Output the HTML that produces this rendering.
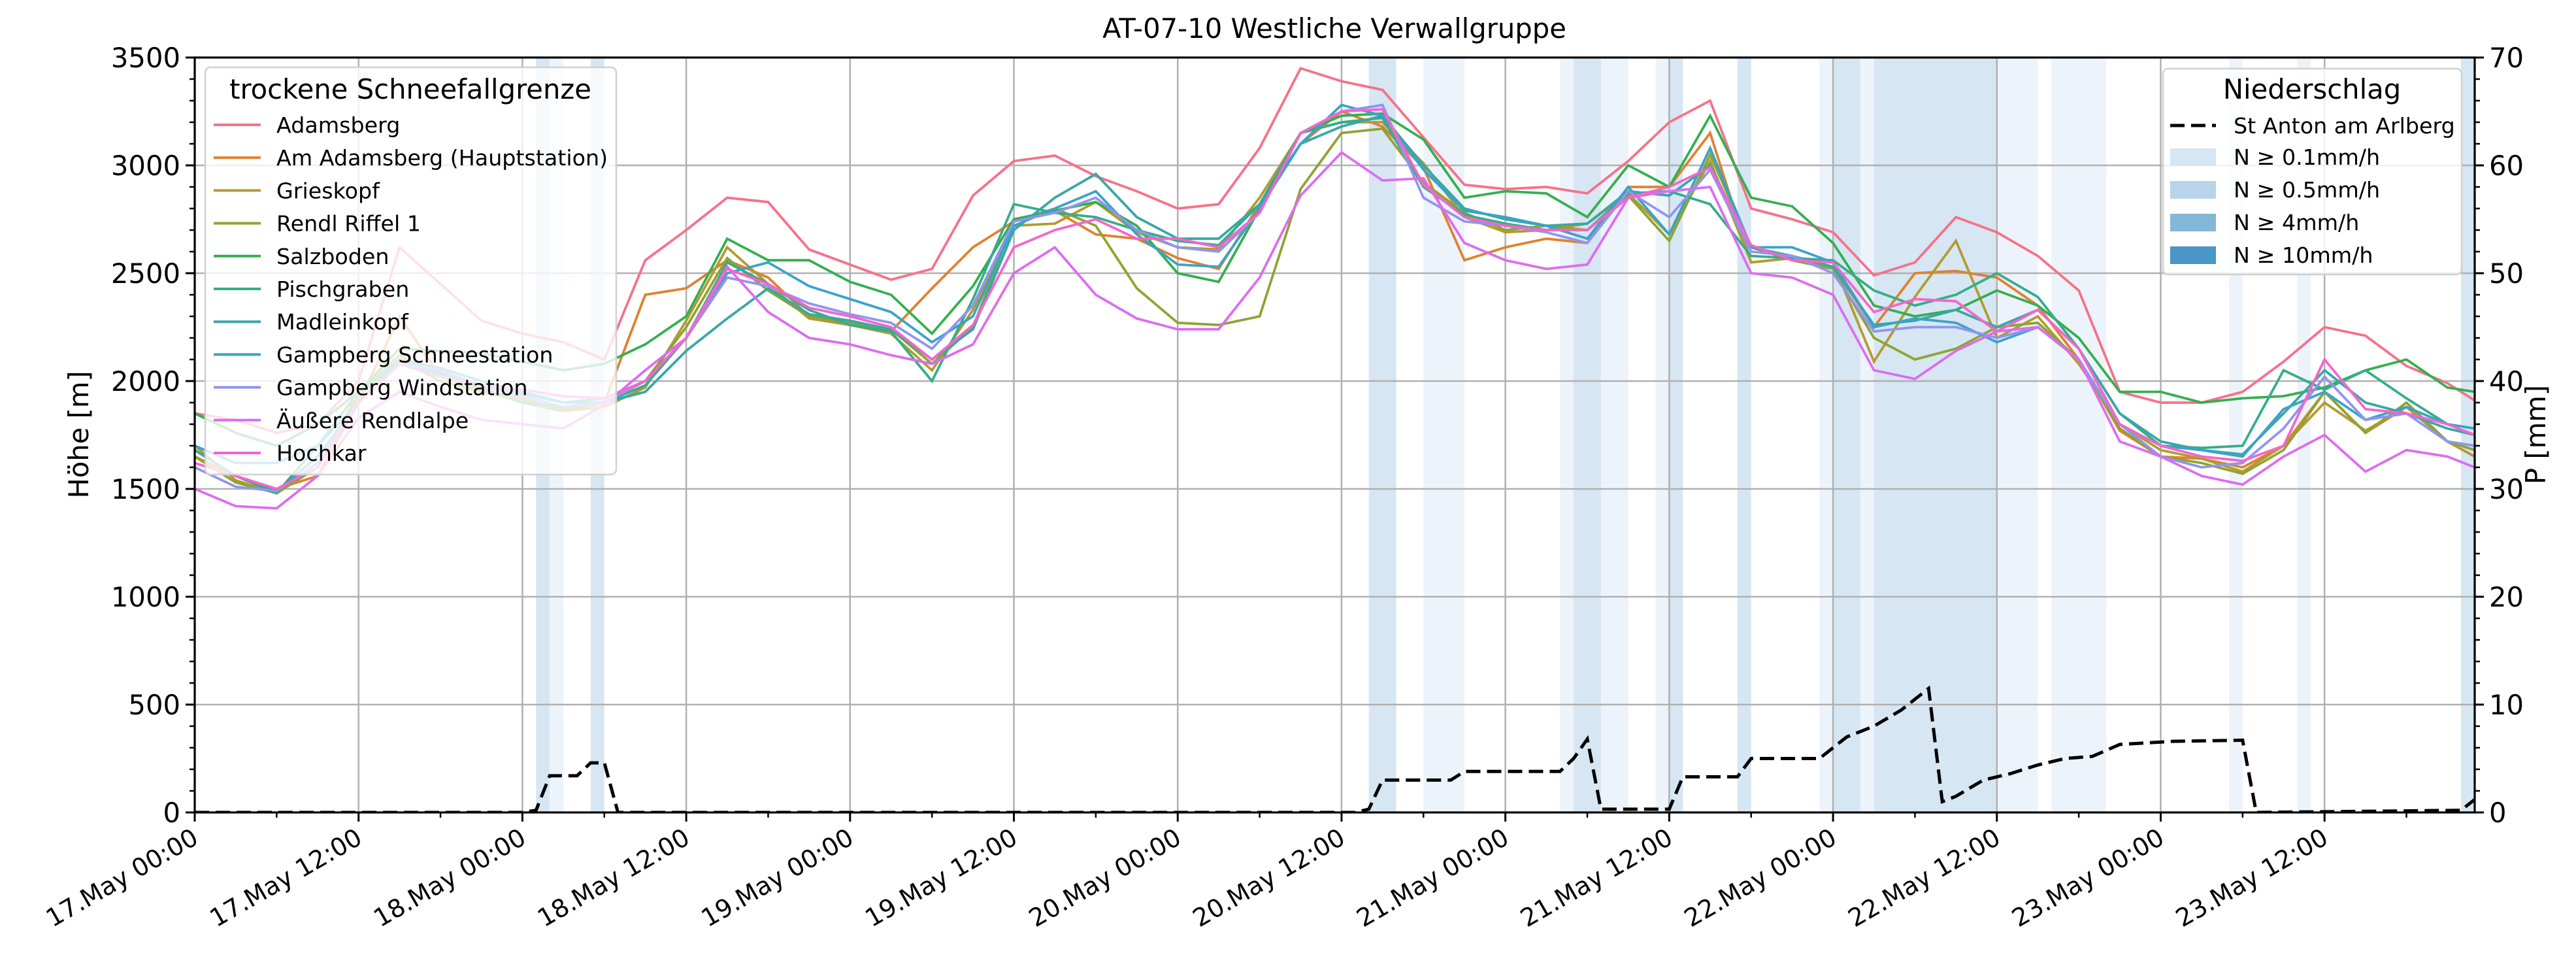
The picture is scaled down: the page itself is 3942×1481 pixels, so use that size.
<!DOCTYPE html>
<html><head><meta charset="utf-8"><style>
html,body{margin:0;padding:0;background:#fff;}
svg{display:block;font-family:"DejaVu Sans","Liberation Sans",sans-serif;}
</style></head><body>
<svg id="chart" width="3942" height="1481" viewBox="0 0 3942 1481" xmlns="http://www.w3.org/2000/svg">
<defs><clipPath id="plotclip"><rect x="298" y="88" width="3489" height="1155"/></clipPath></defs>
<g id="bands" clip-path="url(#plotclip)"></g>
<g id="grid"></g>
<g id="series" clip-path="url(#plotclip)"></g>
<g id="prec" clip-path="url(#plotclip)"></g>
<g id="axes"></g>
<text x="2042" y="58" font-size="41.7" text-anchor="middle">AT-07-10 Westliche Verwallgruppe</text>
<text transform="translate(135,665) rotate(-90)" font-size="41.7" text-anchor="middle">Höhe [m]</text>
<text transform="translate(3895,665) rotate(-90)" font-size="41.7" text-anchor="middle">P [mm]</text>
<g id="legend1"></g>
<g id="legend2"></g>
</svg>
<script>
const hours = [0,3,6,9,12,15,18,21,24,27,30,33,36,39,42,45,48,51,54,57,60,63,66,69,72,75,78,81,84,87,90,93,96,99,102,105,108,111,114,117,120,123,126,129,132,135,138,141,144,147,150,153,156,159,162,165,167];
const stationNames = ["Adamsberg","Am Adamsberg (Hauptstation)","Grieskopf","Rendl Riffel 1","Salzboden","Pischgraben","Madleinkopf","Gampberg Schneestation","Gampberg Windstation","Äußere Rendlalpe","Hochkar"];
const stationColors = ["#f77189","#e0812f","#b59a30","#8fa432","#34af4f","#36ad8a","#38a8a6","#3ba3c7","#8f95f0","#dc6df0","#f565cc"];
const sAdamsberg = [1850,1820,1760,1800,2000,2620,2450,2280,2220,2180,2100,2560,2700,2850,2830,2610,2540,2470,2520,2860,3020,3045,2950,2880,2800,2820,3080,3450,3390,3350,3130,2910,2890,2900,2870,3020,3200,3300,2800,2750,2690,2490,2550,2760,2690,2580,2420,1950,1900,1900,1950,2090,2250,2210,2070,1990,1910];
const sAmAdamsberg = [1650,1560,1500,1560,1900,2300,2020,1960,1920,1860,1900,2400,2430,2560,2480,2300,2270,2230,2430,2620,2740,2790,2680,2660,2570,2520,2820,3100,3250,3180,2990,2560,2620,2660,2640,2900,2900,3150,2550,2570,2530,2250,2500,2510,2480,2350,2100,1770,1650,1640,1600,1700,1950,1760,1880,1720,1650];
const sGrieskopf = [1700,1540,1480,1600,1950,2120,2020,1960,1900,1860,1880,1970,2280,2620,2450,2290,2260,2220,2050,2330,2720,2730,2830,2690,2620,2610,2850,3150,3200,3200,3010,2760,2690,2700,2730,2870,2680,3020,2550,2570,2550,2090,2390,2650,2200,2300,2080,1800,1680,1640,1580,1700,1900,1770,1880,1720,1650];
const sRendl = [1650,1530,1480,1600,1930,2100,2000,1950,1910,1870,1900,2000,2250,2570,2420,2300,2270,2240,2080,2250,2740,2800,2720,2430,2270,2260,2300,2890,3150,3170,2920,2780,2700,2720,2700,2860,2650,3050,2620,2560,2520,2200,2100,2150,2250,2270,2100,1780,1650,1620,1570,1680,1950,1760,1900,1720,1680];
const sSalzboden = [1850,1760,1700,1800,1950,2150,2140,2130,2090,2050,2080,2170,2300,2660,2560,2560,2460,2400,2220,2440,2750,2790,2830,2720,2500,2460,2800,3150,3230,3240,3120,2850,2880,2870,2760,3000,2900,3230,2850,2810,2640,2350,2300,2330,2420,2350,2200,1950,1950,1900,1920,1930,1970,2050,2100,1970,1950];
const sPischgraben = [1680,1560,1480,1700,1950,2100,2030,1970,1900,1880,1900,1980,2200,2550,2450,2330,2260,2230,2000,2380,2820,2780,2760,2700,2650,2630,2820,3150,3200,3220,2900,2770,2730,2700,2700,2870,2880,2820,2580,2570,2560,2420,2350,2400,2500,2390,2150,1850,1700,1690,1700,2050,1960,2050,1920,1800,1750];
const sMadleinkopf = [1680,1560,1490,1650,1900,2100,2060,2000,1950,1900,1900,1950,2140,2290,2430,2310,2280,2240,2100,2240,2700,2850,2960,2760,2660,2660,2820,3100,3180,3230,3000,2800,2750,2720,2730,2880,2860,3000,2620,2580,2530,2260,2280,2330,2250,2330,2150,1850,1720,1680,1660,1850,2050,1900,1850,1780,1750];
const sGampbergS = [1700,1620,1620,1700,1900,2080,2040,1980,1940,1900,1920,2000,2200,2500,2550,2440,2380,2320,2180,2300,2720,2800,2880,2680,2540,2530,2800,3100,3280,3230,2980,2790,2760,2720,2660,2900,2680,3080,2620,2620,2550,2250,2290,2270,2180,2250,2100,1800,1700,1680,1650,1870,1950,1820,1880,1800,1780];
const sGampbergW = [1600,1510,1490,1620,1900,2080,2050,1980,1930,1880,1900,2000,2200,2480,2440,2360,2310,2270,2150,2350,2740,2780,2850,2700,2620,2600,2780,3150,3250,3280,2850,2740,2720,2690,2640,2880,2760,2980,2600,2580,2500,2230,2250,2250,2200,2250,2100,1800,1650,1600,1620,1780,2020,1820,1850,1720,1700];
const sAeussere = [1500,1420,1410,1560,1830,1950,1880,1820,1800,1780,1890,2050,2200,2530,2320,2200,2170,2120,2080,2170,2500,2620,2400,2290,2240,2240,2480,2860,3060,2930,2940,2640,2560,2520,2540,2850,2880,2900,2500,2480,2400,2050,2010,2140,2230,2250,2100,1720,1650,1560,1520,1650,1750,1580,1680,1650,1600];
const sHochkar = [1620,1560,1500,1600,1900,2080,2020,1980,1960,1930,1920,2000,2200,2520,2450,2340,2300,2250,2100,2260,2620,2700,2750,2660,2660,2620,2780,3150,3250,3260,2910,2760,2720,2700,2700,2850,2900,2990,2630,2560,2550,2320,2380,2370,2230,2330,2150,1800,1700,1650,1630,1700,2100,1870,1850,1800,1750];
const precHours = [0,24,25,26,28,29,30,31,85,86,87,92,93,100,101,102,103,108,109,113,114,119,120,121,123,125,127,128,129,131,133,135,137,139,141,145,150,151,166,167];
const precValues = [0,0,0.2,3.4,3.4,4.6,4.6,0,0,0.3,3,3,3.8,3.8,5,6.8,0.3,0.3,3.3,3.3,5,5,6,7,8,9.5,11.5,1,1.5,3,3.6,4.4,5,5.2,6.3,6.6,6.7,0,0.2,1.2];
const bandStart = [25,26,29,86,90,100,101,103,107,108,113,119,120,122,123,132,136,149,154,166];
const bandEnd   = [26,27,30,88,93,101,103,105,108,109,114,120,122,123,132,135,140,150,155,167];
const bandLevel = [1,0,1,1,0,0,1,0,0,1,1,0,1,0,1,0,0,0,0,1];
const xTickLabels = ["17.May 00:00","17.May 12:00","18.May 00:00","18.May 12:00","19.May 00:00","19.May 12:00","20.May 00:00","20.May 12:00","21.May 00:00","21.May 12:00","22.May 00:00","22.May 12:00","23.May 00:00","23.May 12:00"];
const yTicks = [0,500,1000,1500,2000,2500,3000,3500];
const y2Ticks = [0,10,20,30,40,50,60,70];
const allSeries = [sAdamsberg,sAmAdamsberg,sGrieskopf,sRendl,sSalzboden,sPischgraben,sMadleinkopf,sGampbergS,sGampbergW,sAeussere,sHochkar];

const NS="http://www.w3.org/2000/svg";
const X0=298,X1=3787,Y0=1243,Y1=88,HMAX=167;
const xs=h=>X0+(X1-X0)*h/HMAX;
const ys=v=>Y0-(Y0-Y1)*v/3500;
const ys2=v=>Y0-(Y0-Y1)*v/70;
function mk(tag,attrs,parent){const e=document.createElementNS(NS,tag);for(const k in attrs)e.setAttribute(k,attrs[k]);parent.appendChild(e);return e;}

const gB=document.getElementById('bands');
for(let i=0;i<bandStart.length;i++){
  const r=mk('rect',{x:xs(bandStart[i]),y:Y1,width:xs(bandEnd[i])-xs(bandStart[i]),height:Y0-Y1,fill:bandLevel[i]?'#d6e6f3':'#edf3fa'},gB);
  
  
}
const gG=document.getElementById('grid');
xTickLabels.forEach((l,i)=>{const x=xs(i*12);const ln=mk('line',{x1:x,x2:x,y1:Y1,y2:Y0,stroke:'#b0b0b0','stroke-width':2.5},gG);
  
  });
yTicks.forEach(v=>{const y=ys(v);const ln=mk('line',{x1:X0,x2:X1,y1:y,y2:y,stroke:'#b0b0b0','stroke-width':2.5},gG);
  
  });

const gS=document.getElementById('series');
allSeries.forEach((s,k)=>{
  const d=s.map((v,i)=>(i?'L':'M')+xs(hours[i]).toFixed(1)+','+ys(v).toFixed(1)).join('');
  const p=mk('path',{d:d,fill:'none',stroke:stationColors[k],'stroke-width':3.8,'stroke-linejoin':'miter'},gS);
  
  
});
const gP=document.getElementById('prec');
const pd=precValues.map((v,i)=>(i?'L':'M')+xs(precHours[i]).toFixed(1)+','+ys2(v).toFixed(1)).join('');
const pp=mk('path',{d:pd,fill:'none',stroke:'#000','stroke-width':5,'stroke-dasharray':'22,10'},gP);



const gA=document.getElementById('axes');
const fr=mk('rect',{x:X0,y:Y1,width:X1-X0,height:Y0-Y1,fill:'none',stroke:'#000','stroke-width':3.2},gA);


for(let v=0;v<=3500;v+=100){const y=ys(v);const maj=v%500===0;mk('line',{x1:X0-(maj?14:8),x2:X0,y1:y,y2:y,stroke:'#000','stroke-width':maj?3:2.5},gA);}
for(let v=0;v<=70;v+=2){const y=ys2(v);const maj=v%10===0;mk('line',{x1:X1,x2:X1+(maj?14:8),y1:y,y2:y,stroke:'#000','stroke-width':maj?3:2.5},gA);}
for(let h=0;h<=HMAX;h+=6){const x=xs(h);const maj=h%12===0;mk('line',{x1:x,x2:x,y1:Y0,y2:Y0+(maj?14:8),stroke:'#000','stroke-width':maj?3:2.5},gA);}
yTicks.forEach(v=>{const t=mk('text',{x:X0-22,y:ys(v)+15,'font-size':41.7,'text-anchor':'end'},gA);t.textContent=v;
  
  });
y2Ticks.forEach(v=>{const t=mk('text',{x:X1+22,y:ys2(v)+15,'font-size':41.7,'text-anchor':'start'},gA);t.textContent=v;
  
  });
xTickLabels.forEach((l,i)=>{const x=xs(i*12);const t=mk('text',{transform:`translate(${x+8},${Y0+46}) rotate(-30)`,'font-size':38,'text-anchor':'end'},gA);t.textContent=l;
  
  });

const L1=document.getElementById('legend1');
mk('rect',{x:314,y:103,width:629,height:623,rx:8,fill:'#fff','fill-opacity':0.8,stroke:'#d0d0d0','stroke-width':2.5},L1);
const t1=mk('text',{x:628,y:151,'font-size':41.7,'text-anchor':'middle'},L1);t1.textContent='trockene Schneefallgrenze';
stationNames.forEach((n,i)=>{const y=191+i*50.2;
  const ln=mk('line',{x1:327,x2:399,y1:y,y2:y,stroke:stationColors[i],'stroke-width':4},L1);
  
  
  const t=mk('text',{x:423,y:y+12,'font-size':33.3},L1);t.textContent=n;
  
  });

const L2=document.getElementById('legend2');
mk('rect',{x:3310,y:105,width:457,height:315,rx:8,fill:'#fff','fill-opacity':0.8,stroke:'#d0d0d0','stroke-width':2.5},L2);
const t2=mk('text',{x:3538,y:151,'font-size':41.7,'text-anchor':'middle'},L2);t2.textContent='Niederschlag';
const dl=mk('line',{x1:3321,x2:3391,y1:192,y2:192,stroke:'#000','stroke-width':5,'stroke-dasharray':'22,10'},L2);


const ts=mk('text',{x:3418,y:204,'font-size':33.3},L2);ts.textContent='St Anton am Arlberg';


const pLabels=['N ≥ 0.1mm/h','N ≥ 0.5mm/h','N ≥ 4mm/h','N ≥ 10mm/h'];
const pCols=['#d6e6f3','#b8d4ea','#82b7d8','#4a96c8'];
pLabels.forEach((l,i)=>{const y=240+i*50;
  const r=mk('rect',{x:3321,y:y-13,width:70,height:27,fill:pCols[i]},L2);
  
  
  const t=mk('text',{x:3418,y:y+12,'font-size':33.3},L2);t.textContent=l;
  
  });
</script>
</body></html>
